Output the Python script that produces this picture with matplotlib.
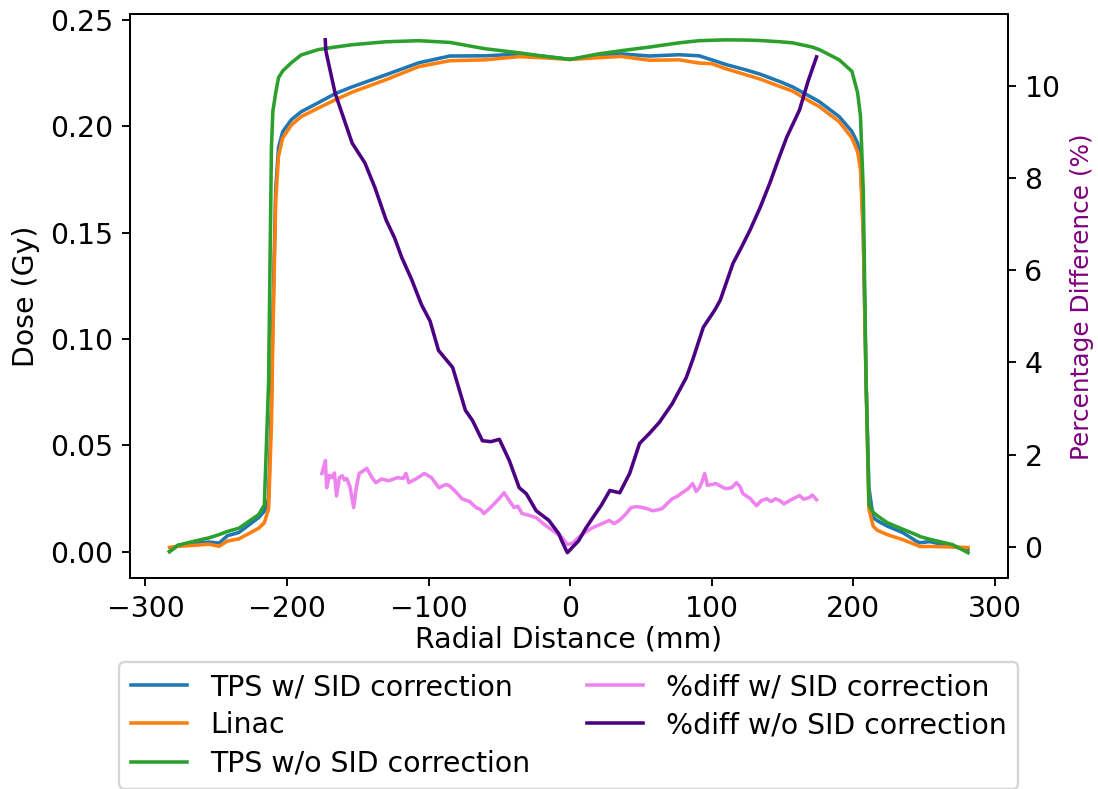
import matplotlib.pyplot as plt
import numpy as np

plt.rcParams["font.size"] = 12

# Dose profiles (Gy) vs radial distance (mm)
x_dose = [-283, -277, -265, -255, -248, -242, -234, -220, -216, -213, -211, -210, -208, -206,
          -203, -197, -190, -178, -166, -154, -130, -107, -85, -60, -36, -20, 0, 20, 36, 56,
          77, 91, 100, 110, 124, 134, 148, 157, 171, 176, 190, 199, 203, 205, 207, 209, 211,
          214, 217, 224, 235, 245, 247, 254, 270, 281]

tps_with_sid = [0.000, 0.003, 0.004, 0.0045, 0.0040, 0.0075, 0.009, 0.016, 0.019, 0.025, 0.070,
                0.110, 0.170, 0.190, 0.1975, 0.2030, 0.2068, 0.2110, 0.2153, 0.2185, 0.2242,
                0.2298, 0.2330, 0.2331, 0.2339, 0.2330, 0.2314, 0.2335, 0.2340, 0.2330, 0.2336,
                0.2331, 0.2312, 0.2290, 0.2265, 0.2245, 0.2210, 0.2185, 0.2134, 0.2115, 0.2045,
                0.1975, 0.1920, 0.1850, 0.1500, 0.0800, 0.0300, 0.0160, 0.0145, 0.0120, 0.0089,
                0.0047, 0.0042, 0.0047, 0.0024, 0.0010]

linac = [0.002, 0.0025, 0.003, 0.0035, 0.0025, 0.0050, 0.006, 0.011, 0.0136, 0.020, 0.060,
         0.100, 0.165, 0.186, 0.1945, 0.2005, 0.2045, 0.2085, 0.2124, 0.2160, 0.2219, 0.2280,
         0.2308, 0.2312, 0.2327, 0.2322, 0.2314, 0.2322, 0.2328, 0.2310, 0.2312, 0.2297, 0.2294,
         0.2270, 0.2242, 0.2222, 0.2187, 0.2165, 0.2110, 0.2092, 0.2021, 0.1945, 0.1880, 0.1800,
         0.1500, 0.0800, 0.0200, 0.0120, 0.0100, 0.0080, 0.0056, 0.0030, 0.0024, 0.0024, 0.0022,
         0.0019]

tps_without_sid = [0.000, 0.003, 0.005, 0.0065, 0.008, 0.0095, 0.011, 0.0174, 0.022, 0.080,
                   0.190, 0.207, 0.2156, 0.2228, 0.2260, 0.2298, 0.2335, 0.2360, 0.2372, 0.2383,
                   0.2397, 0.2402, 0.2394, 0.2364, 0.2345, 0.2330, 0.2314, 0.2340, 0.2355, 0.2372,
                   0.2392, 0.2402, 0.2404, 0.2406, 0.2405, 0.2403, 0.2397, 0.2392, 0.2372, 0.2360,
                   0.2312, 0.2258, 0.2157, 0.2050, 0.1700, 0.0800, 0.0220, 0.0185, 0.0168, 0.0136,
                   0.0105, 0.0078, 0.0071, 0.0058, 0.0033, -0.0005]

# Percentage difference w/o SID correction
x_diff_wo = [-173, -172.5, -166, -160, -154, -145, -138, -130, -124, -119, -112, -105, -99, -93,
             -83, -74, -69, -62, -56, -50, -43, -36, -31, -24, -15, -8, -6, -2, 2, 6, 11, 16, 22,
             28, 35, 42, 49, 56, 63, 72, 82, 87, 94, 102, 106, 115, 121, 127, 134, 141, 147, 153,
             162, 168, 174]
diff_wo = [11.0, 10.75, 9.84, 9.3, 8.76, 8.33, 7.8, 7.09, 6.7, 6.28, 5.8, 5.25, 4.9, 4.26, 3.89,
           2.96, 2.74, 2.3, 2.28, 2.33, 1.87, 1.28, 1.15, 0.78, 0.57, 0.28, 0.13, -0.13, 0.0, 0.13,
           0.4, 0.63, 0.9, 1.22, 1.17, 1.59, 2.24, 2.46, 2.7, 3.1, 3.67, 4.1, 4.76, 5.13, 5.35,
           6.15, 6.5, 6.87, 7.35, 7.89, 8.4, 8.89, 9.48, 10.1, 10.63]

# Percentage difference w/ SID correction
x_diff_w = [-175.3, -172.9, -172, -170, -168.4, -166.5, -165, -163, -161, -159.5, -157.8, -155.5,
            -152.9, -151, -149, -146, -143.6, -140, -137.3, -133, -128, -122, -118, -116, -114,
            -109, -103, -98, -92.7, -88, -85.6, -81, -76.4, -71, -66.5, -63, -61, -58, -55, -50,
            -46.7, -43, -39.6, -37, -34, -29, -24, -19, -15, -10, -5.7, -2, 1.4, 6, 10, 15.6, 21,
            27.6, 31, 34.7, 39, 43, 47, 51, 55, 58, 62, 65, 69, 72, 76, 79, 83, 86.5, 89, 91.3,
            93, 95, 97, 100, 103, 107, 110, 114, 117.5, 120, 122, 127, 131.6, 135, 138.7, 142,
            145, 148, 151, 155, 158, 162, 165, 169, 171, 174]
diff_w = [1.59, 1.87, 1.28, 1.55, 1.5, 1.6, 1.1, 1.5, 1.54, 1.45, 1.48, 1.3, 0.85, 1.3, 1.59,
          1.65, 1.7, 1.5, 1.39, 1.47, 1.43, 1.5, 1.48, 1.59, 1.39, 1.47, 1.59, 1.5, 1.28, 1.35,
          1.33, 1.2, 1.04, 0.98, 0.85, 0.8, 0.72, 0.8, 0.89, 1.05, 1.17, 1.0, 0.85, 0.88, 0.72,
          0.68, 0.63, 0.5, 0.41, 0.3, 0.2, 0.05, 0.07, 0.2, 0.3, 0.41, 0.48, 0.57, 0.5, 0.57,
          0.7, 0.85, 0.87, 0.85, 0.82, 0.78, 0.8, 0.83, 0.95, 1.04, 1.1, 1.17, 1.25, 1.37, 1.2,
          1.28, 1.4, 1.59, 1.33, 1.35, 1.37, 1.3, 1.26, 1.28, 1.39, 1.3, 1.15, 1.05, 0.89, 1.0,
          1.04, 0.98, 1.04, 1.0, 0.93, 1.0, 1.05, 1.11, 1.03, 1.07, 1.12, 1.02]

fig, ax = plt.subplots(figsize=(1098 / 170, 789 / 170))
fig.subplots_adjust(left=0.118, right=0.918, top=0.982, bottom=0.267)

l1, = ax.plot(x_dose, tps_with_sid, color="tab:blue", label="TPS w/ SID correction")
l2, = ax.plot(x_dose, linac, color="tab:orange", label="Linac")
l3, = ax.plot(x_dose, tps_without_sid, color="tab:green", label="TPS w/o SID correction")
ax.set_xlabel("Radial Distance (mm)", labelpad=1)
ax.set_ylabel("Dose (Gy)")

ax2 = ax.twinx()
l4, = ax2.plot(x_diff_w, diff_w, color="violet", label="%diff w/ SID correction")
l5, = ax2.plot(x_diff_wo, diff_wo, color="indigo", label="%diff w/o SID correction")
ax2.set_ylabel("Percentage Difference (%)", color="purple", fontsize=10.5)

lines = [l1, l2, l3, l4, l5]
ax.legend(lines, [l.get_label() for l in lines], ncol=2, loc="upper center",
          bbox_to_anchor=(0.5, -0.128), labelspacing=0.36, borderaxespad=0.4)

plt.savefig("out.png", dpi=170)
